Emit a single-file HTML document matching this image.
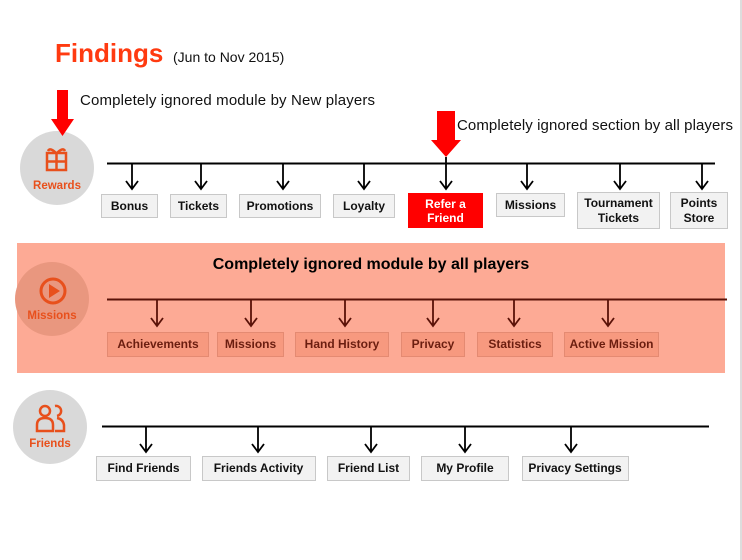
<!DOCTYPE html>
<html><head><meta charset="utf-8"><style>
html,body{margin:0;padding:0;background:#fff;width:742px;height:560px;overflow:hidden}
svg{display:block}
text{font-family:"Liberation Sans",sans-serif}
.b{font-size:12px;fill:#111;text-anchor:middle;font-weight:bold}
.m{font-size:12px;fill:#6b1e10;text-anchor:middle;font-weight:bold}
</style></head><body>
<svg width="742" height="560" viewBox="0 0 742 560" xmlns="http://www.w3.org/2000/svg">
<line x1="741" y1="0" x2="741" y2="560" stroke="#bbb" stroke-width="1"/>
<text x="55" y="62" style="font-size:26px;font-weight:bold;fill:#ff3a10">Findings</text>
<text x="173" y="62" style="font-size:14px;fill:#111">(Jun to Nov 2015)</text>
<text x="80" y="105" style="font-size:15px;fill:#111" textLength="295">Completely ignored module by New players</text>
<text x="457" y="130" style="font-size:15px;fill:#111" textLength="276">Completely ignored section by all players</text>

<!-- Rewards -->
<circle cx="57" cy="168" r="37" fill="#d9d9d9"/>
<g fill="none" stroke="#e8501c" stroke-width="2.5">
<rect x="47" y="153" width="19" height="17"/><line x1="56.5" y1="153" x2="56.5" y2="170"/><line x1="47" y1="161.5" x2="66" y2="161.5"/>
<path d="M56 153 q-6 -6 -8 -2 M57 153 q6 -6 8 -2"/>
</g>
<text x="57" y="189" style="font-size:11.5px;font-weight:bold;fill:#e8501c;text-anchor:middle">Rewards</text>
<polygon points="57,90 68,90 68,119 74,119 62.5,136 51,119 57,119" fill="#f00"/>
<polygon points="437,111 455,111 455,140 461,140 446,157 431,140 437,140" fill="#f00"/>

<line x1="107" y1="163.5" x2="715" y2="163.5" stroke="#000" stroke-width="2"/>
<g stroke="#000" stroke-width="1.8" fill="none">
<path d="M132 164v25M126 181l6 8 6-8"/>
<path d="M201 164v25M195 181l6 8 6-8"/>
<path d="M283 164v25M277 181l6 8 6-8"/>
<path d="M364 164v25M358 181l6 8 6-8"/>
<path d="M446 157v32M440 181l6 8 6-8"/>
<path d="M527 164v25M521 181l6 8 6-8"/>
<path d="M620 164v25M614 181l6 8 6-8"/>
<path d="M702 164v25M696 181l6 8 6-8"/>
</g>
<g fill="#f2f2f2" stroke="#c8c8c8">
<rect x="101.5" y="194.5" width="56" height="23"/>
<rect x="170.5" y="194.5" width="56" height="23"/>
<rect x="239.5" y="194.5" width="81" height="23"/>
<rect x="333.5" y="194.5" width="61" height="23"/>
<rect x="496.5" y="193.5" width="68" height="23"/>
<rect x="577.5" y="192.5" width="82" height="36"/>
<rect x="670.5" y="192.5" width="57" height="36"/>
</g>
<rect x="408" y="193" width="75" height="35" fill="#f00"/>
<text class="b" x="129.5" y="210">Bonus</text>
<text class="b" x="198.5" y="210">Tickets</text>
<text class="b" x="280" y="210">Promotions</text>
<text class="b" x="364" y="210">Loyalty</text>
<text class="b" x="445.5" y="208" style="fill:#fff">Refer a</text>
<text class="b" x="445.5" y="222" style="fill:#fff">Friend</text>
<text class="b" x="530.5" y="209">Missions</text>
<text class="b" x="618.5" y="207">Tournament</text>
<text class="b" x="618.5" y="222">Tickets</text>
<text class="b" x="699" y="207">Points</text>
<text class="b" x="699" y="222">Store</text>

<!-- Missions -->
<rect x="17" y="243" width="708" height="130" fill="#fdaa95"/>
<circle cx="52" cy="299" r="37" fill="#e9977f"/>
<circle cx="53" cy="291" r="12" fill="none" stroke="#e8501c" stroke-width="3"/>
<polygon points="49,284 49,298 60,291" fill="#e8501c"/>
<text x="52" y="319" style="font-size:11.5px;font-weight:bold;fill:#e8501c;text-anchor:middle">Missions</text>
<text x="371" y="269" style="font-size:16px;font-weight:bold;fill:#000;text-anchor:middle">Completely ignored module by all players</text>
<line x1="107" y1="299.5" x2="727" y2="299.5" stroke="#5a1208" stroke-width="2"/>
<g stroke="#5a1208" stroke-width="1.8" fill="none">
<path d="M157 300v26M151 318l6 8 6-8"/>
<path d="M251 300v26M245 318l6 8 6-8"/>
<path d="M345 300v26M339 318l6 8 6-8"/>
<path d="M433 300v26M427 318l6 8 6-8"/>
<path d="M514 300v26M508 318l6 8 6-8"/>
<path d="M608 300v26M602 318l6 8 6-8"/>
</g>
<g fill="#f7997f" stroke="#e48a72">
<rect x="107.5" y="332.5" width="101" height="24"/>
<rect x="217.5" y="332.5" width="66" height="24"/>
<rect x="295.5" y="332.5" width="93" height="24"/>
<rect x="401.5" y="332.5" width="63" height="24"/>
<rect x="477.5" y="332.5" width="75" height="24"/>
<rect x="564.5" y="332.5" width="94" height="24"/>
</g>
<text class="m" x="158" y="348">Achievements</text>
<text class="m" x="250.5" y="348">Missions</text>
<text class="m" x="342" y="348">Hand History</text>
<text class="m" x="433" y="348">Privacy</text>
<text class="m" x="515" y="348">Statistics</text>
<text class="m" x="611.5" y="348">Active Mission</text>

<!-- Friends -->
<circle cx="50" cy="427" r="37" fill="#d9d9d9"/>
<g fill="none" stroke="#e8501c" stroke-width="2.5">
<circle cx="45" cy="411" r="5"/><path d="M37 431v-6q0-7 8-7q8 0 8 7v6z"/>
<path d="M55 406a5 5 0 1 1 2 10M57 418q6 1 7 7v6h-9"/>
</g>
<text x="50" y="447" style="font-size:11.5px;font-weight:bold;fill:#e8501c;text-anchor:middle">Friends</text>
<line x1="102" y1="426.5" x2="709" y2="426.5" stroke="#000" stroke-width="2"/>
<g stroke="#000" stroke-width="1.8" fill="none">
<path d="M146 427v25M140 444l6 8 6-8"/>
<path d="M258 427v25M252 444l6 8 6-8"/>
<path d="M371 427v25M365 444l6 8 6-8"/>
<path d="M465 427v25M459 444l6 8 6-8"/>
<path d="M571 427v25M565 444l6 8 6-8"/>
</g>
<g fill="#f2f2f2" stroke="#c8c8c8">
<rect x="96.5" y="456.5" width="94" height="24"/>
<rect x="202.5" y="456.5" width="113" height="24"/>
<rect x="327.5" y="456.5" width="82" height="24"/>
<rect x="421.5" y="456.5" width="87" height="24"/>
<rect x="522.5" y="456.5" width="106" height="24"/>
</g>
<text class="b" x="143.5" y="472">Find Friends</text>
<text class="b" x="258.5" y="472">Friends Activity</text>
<text class="b" x="368.5" y="472">Friend List</text>
<text class="b" x="465" y="472">My Profile</text>
<text class="b" x="575" y="472">Privacy Settings</text>
</svg>
</body></html>
